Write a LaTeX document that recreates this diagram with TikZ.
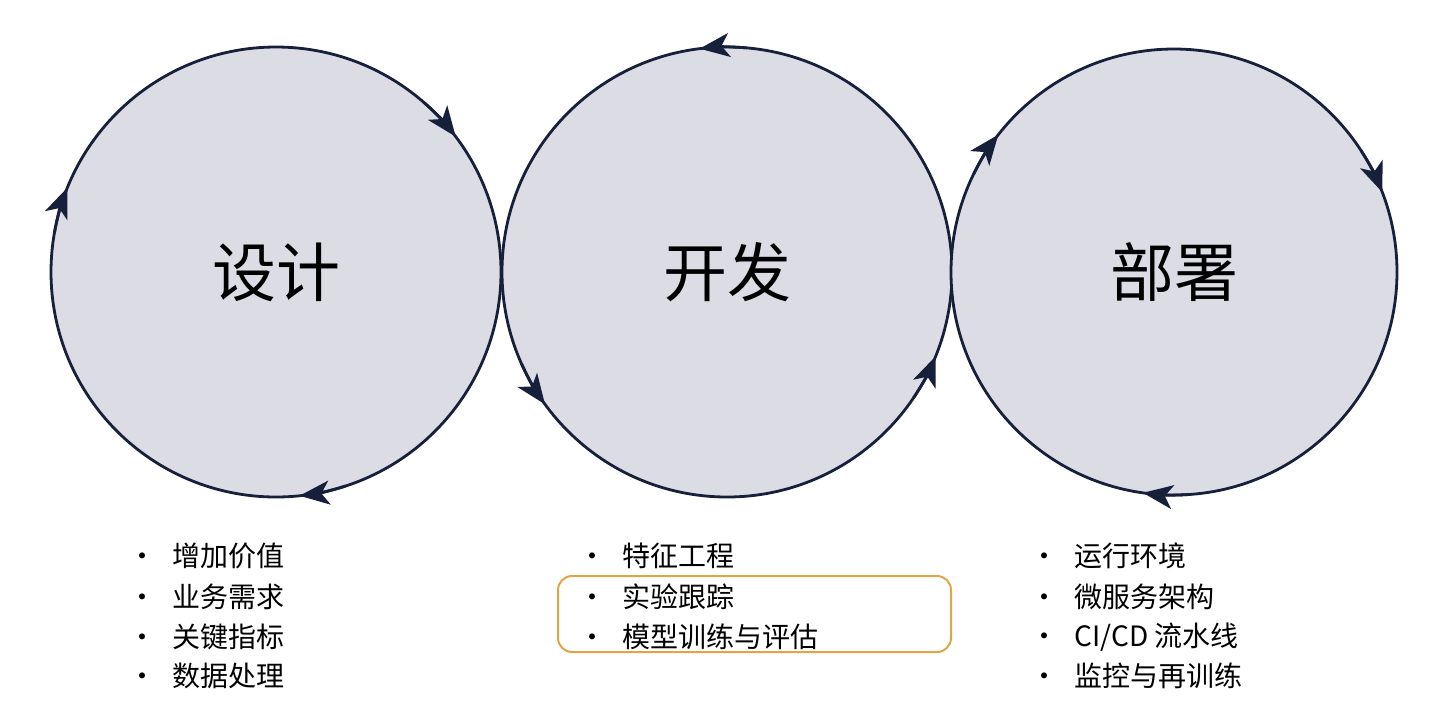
\documentclass[tikz,border=0pt]{standalone}
\usepackage{fontspec}
\setmainfont{Noto Sans CJK SC}
\usetikzlibrary{arrows.meta,calc}
\definecolor{fillc}{HTML}{DCDCE5}
\definecolor{linec}{HTML}{17203A}
\definecolor{boxc}{HTML}{E2A545}
\begin{document}
\begin{tikzpicture}[x=0.5pt,y=-0.5pt,
  ring/.style={draw=linec,fill=fillc,line width=1.4pt},
  tip/.style={draw=linec,line width=1.4pt,-{Stealth[length=15pt,width=12pt,inset=4pt]}},
  title/.style={font=\fontsize{32}{36}\selectfont,text=black},
  item/.style={anchor=west,font=\fontsize{14}{17}\selectfont,text=black,inner sep=0pt}]
\useasboundingbox (0,0) rectangle (1440,720);
\node[ring,circle,minimum size=225pt,inner sep=0pt] (c1) at (276,272) {};
\node[ring,circle,minimum size=225pt,inner sep=0pt] (c2) at (727,272) {};
\node[ring,circle,minimum size=223pt,inner sep=0pt] (c3) at (1174,272) {};
\node[title] (t1) at (c1) {设计};
\node[title] (t2) at (c2) {开发};
\node[title] (t3) at (c3) {部署};
\foreach \c/\r/\a/\d in {c1/112.5/158/-1, c1/112.5/37/-1, c1/112.5/276/-1,
  c2/112.5/97/1, c2/112.5/216/1, c2/112.5/338/1,
  c3/111.5/142/-1, c3/111.5/21/-1, c3/111.5/262/-1}{
  \draw[tip] ($(\c)+({\a-\d*12}:\r pt)$) arc[start angle={\a-\d*12}, end angle={\a}, radius=\r pt];
}
\draw[boxc,line width=1pt,rounded corners=7pt] (558,576) rectangle (951,652);
\foreach \x/\n/\a/\b/\c/\e in {128/l/增加价值/业务需求/关键指标/数据处理,
  578/m/特征工程/实验跟踪/模型训练与评估/{},
  1030/r/运行环境/微服务架构/{CI/CD 流水线}/监控与再训练}{
  \node[item] (\n1) at (\x,556) {•\hspace{8pt}\a};
  \node[item] (\n2) at (\x,597) {•\hspace{8pt}\b};
  \node[item] (\n3) at (\x,637) {•\hspace{8pt}\c};
  \if\relax\detokenize\expandafter{\e}\relax\else
  \node[item] (\n4) at (\x,676) {•\hspace{8pt}\e};\fi
}
\end{tikzpicture}
\end{document}
